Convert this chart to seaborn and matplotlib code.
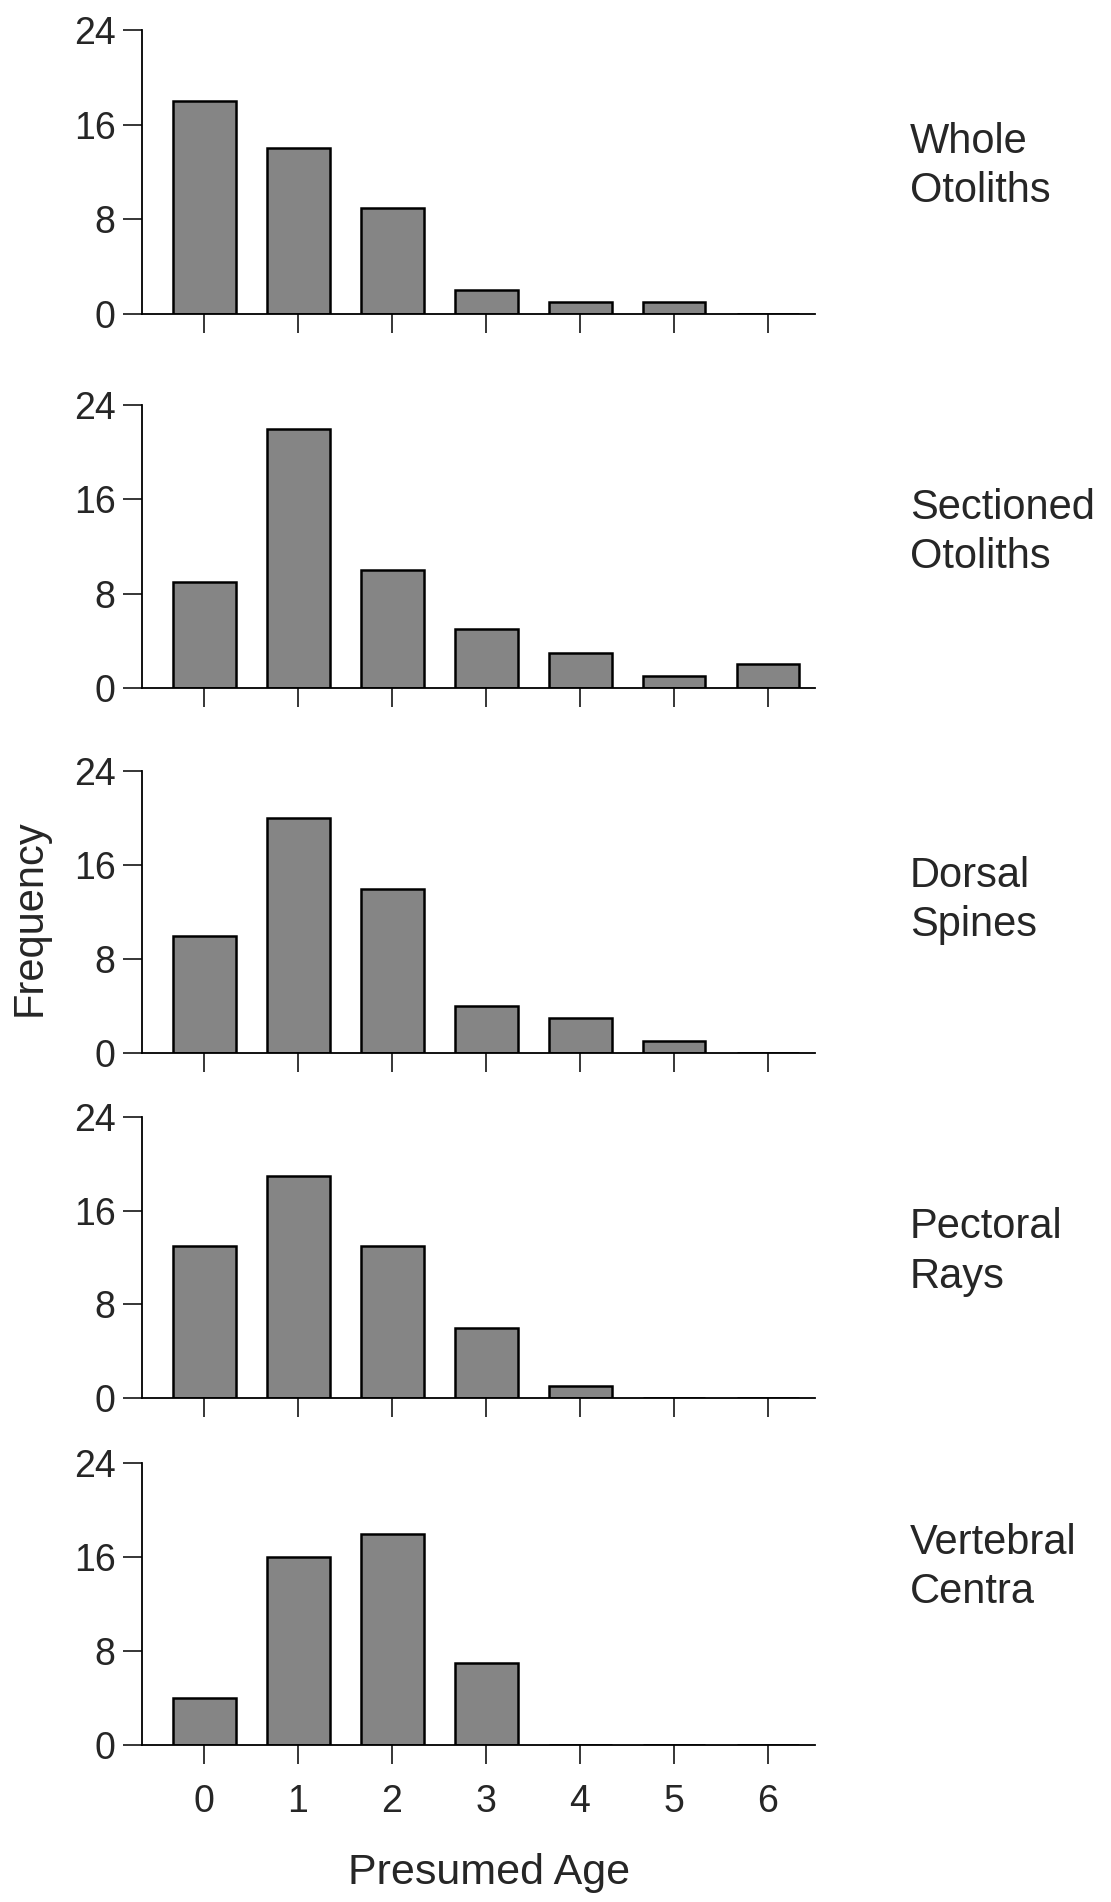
import numpy as np
import pandas as pd
import matplotlib
matplotlib.use("Agg")
import matplotlib.pyplot as plt
import seaborn as sns

# donnees
ages = [0, 1, 2, 3, 4, 5, 6]
whole_otoliths = [18, 14, 9, 2, 1, 1, 0]
sectioned_otoliths = [9, 22, 10, 5, 3, 1, 2]
dorsal_spines = [10, 20, 14, 4, 3, 1, 0]
pectoral_rays = [13, 19, 13, 6, 1, 0, 0]
vertebral_centra = [4, 16, 18, 7, 0, 0, 0]
structures = ["Whole\nOtoliths", "Sectioned\nOtoliths", "Dorsal\nSpines",
              "Pectoral\nRays", "Vertebral\nCentra"]
y_ticks = [0, 8, 16, 24]

series = [whole_otoliths, sectioned_otoliths, dorsal_spines, pectoral_rays, vertebral_centra]
label_y = [0.52, 0.55, 0.54, 0.52, 0.63]

sns.set_style("white")
plt.rcParams['font.family'] = ['Liberation Sans', 'DejaVu Sans']

fig = plt.figure(figsize=(11.11, 19.02), dpi=100)
H = 1902.0
tops = [30, 405, 771, 1117, 1463]
bottoms = [314, 688, 1053, 1398, 1745]
left, right = 142 / 1111, 815 / 1111

for i, vals in enumerate(series):
    ax = fig.add_axes([left, 1 - bottoms[i] / H, right - left, (bottoms[i] - tops[i]) / H])
    df = pd.DataFrame({'age': ages, 'freq': vals})
    sns.barplot(data=df, x='age', y='freq', ax=ax, color='#858585', saturation=1,
                width=0.67, edgecolor='black', linewidth=1.8)
    ax.set_xlim(-0.66, 6.5)
    ax.set_ylim(0, 24)
    ax.set_yticks(y_ticks)
    ax.set_xticks(range(len(ages)))
    sns.despine(ax=ax)
    for s in ['left', 'bottom']:
        ax.spines[s].set_color('black')
        ax.spines[s].set_linewidth(1.3)
    ax.tick_params(axis='both', direction='out', length=14, width=1.1, color='black',
                   labelsize=27, pad=5, bottom=True, left=True)
    ax.set_xlabel('')
    ax.set_ylabel('')
    if i < len(series) - 1:
        ax.set_xticklabels([])
    else:
        ax.set_xticklabels([str(a) for a in ages])
        ax.tick_params(axis='x', pad=14)
    fig.text(910 / 1111, 1 - (bottoms[i] - label_y[i] * (bottoms[i] - tops[i])) / H,
             structures[i], fontsize=30, ha='left', va='center', linespacing=1.3)

fig.text(30 / 1111, 1 - 918 / H, 'Frequency', rotation=90, fontsize=30,
         ha='center', va='center')
fig.text(489 / 1111, 1 - 1873 / H, 'Presumed Age', fontsize=31, ha='center', va='center')

plt.savefig('out.png', dpi=100)
